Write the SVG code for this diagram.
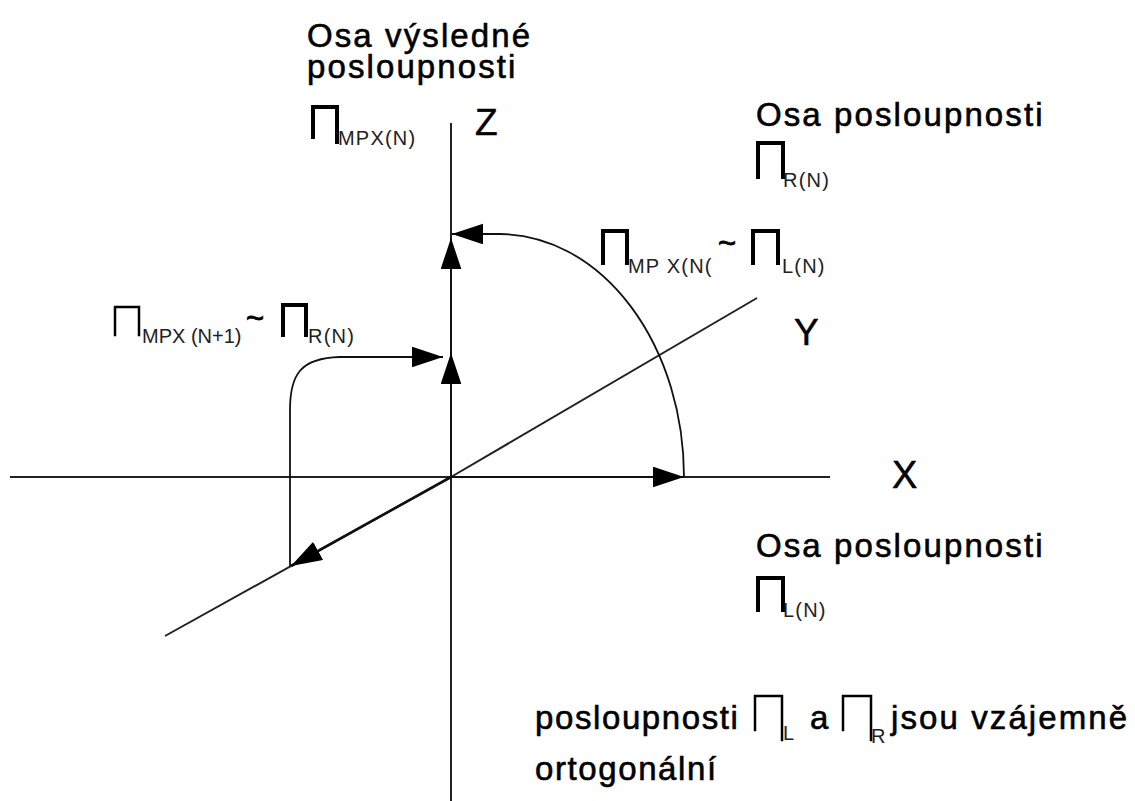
<svg xmlns="http://www.w3.org/2000/svg" width="1135" height="801" viewBox="0 0 1135 801">
<style>
.t{font-family:"Liberation Sans",Arial,sans-serif;fill:#000}
.lab{font-size:33px;letter-spacing:2.1px;stroke:#000;stroke-width:0.6px}
.ax{font-size:37px;stroke:#000;stroke-width:0.5px}
.sub{font-size:20px;letter-spacing:1.2px;fill:#222}
.axis{stroke:#222;stroke-width:2;fill:none}
.conn{stroke:#111;stroke-width:1.8;fill:none}
.pi{stroke:#000;stroke-width:4;fill:none;stroke-linecap:square}
.pit{stroke:#000;stroke-width:2.5;fill:none;stroke-linecap:square}
</style>
<defs>
<marker id="ah" viewBox="0 0 30 20" refX="30" refY="10" markerWidth="31" markerHeight="21" markerUnits="userSpaceOnUse" orient="auto">
<path d="M0,0 L30,10 L0,20 Z" fill="#000"/>
</marker>
</defs>
<rect width="1135" height="801" fill="#fff"/>
<g id="axes">
<line class="axis" x1="10" y1="477" x2="830" y2="477"/>
<line class="axis" x1="451" y1="123" x2="451" y2="801"/>
<polyline class="axis" points="165,636 451,477 757,298"/>
</g>
<g id="connectors">
<path class="conn" d="M451,477 L684,477" marker-end="url(#ah)"/>
<path class="conn" d="M684,477 A185,243 0 0 0 500,234 L452,234" marker-end="url(#ah)"/>
<path class="conn" d="M451,477 L451,353" marker-end="url(#ah)"/>
<path class="conn" d="M451,353 L451,238" marker-end="url(#ah)"/>
<path class="conn" d="M290,566 V410 C290,375 300,358 340,357 H443" marker-end="url(#ah)"/>
<path class="conn" style="stroke-width:2.6" d="M451,477 L291,566" marker-end="url(#ah)"/>
</g>
<g id="axis-z"><text class="t ax" x="475" y="135">Z</text></g>
<g id="axis-y"><text class="t ax" x="794" y="345">Y</text></g>
<g id="axis-x"><text class="t ax" x="892" y="488" style="font-size:38px">X</text></g>
<g id="label-mpx">
<text class="t lab" x="307" y="47">Osa výsledné</text>
<text class="t lab" x="307" y="78">posloupnosti</text>
<path class="pi" d="M313,137 V107 H337 V142"/>
<text class="t sub" x="338" y="145">MPX(N)</text>
</g>
<g id="label-r">
<text class="t lab" x="756" y="126">Osa posloupnosti</text>
<path class="pi" d="M758,177 V143 H783 V177"/>
<text class="t sub" x="783" y="187">R(N)</text>
</g>
<g id="label-l">
<text class="t lab" x="756" y="557">Osa posloupnosti</text>
<path class="pi" d="M758,610 V578 H783 V610"/>
<text class="t sub" x="783" y="617">L(N)</text>
</g>
<g id="label-big-arc">
<path class="pi" d="M603,263 V231 H627 V263"/>
<text class="t sub" x="628" y="273">MP X(N(</text>
<text class="t" x="718" y="254" style="font-size:31px;stroke:#000;stroke-width:0.8px">~</text>
<path class="pi" d="M753,263 V231 H778 V263"/>
<text class="t sub" x="782" y="273">L(N)</text>
</g>
<g id="label-small-arc">
<path class="pit" d="M115,335 V307 H139 V335"/>
<text class="t sub" x="142" y="343" style="letter-spacing:0">MPX (N+1)</text>
<text class="t" x="246" y="329" style="font-size:31px;stroke:#000;stroke-width:0.8px">~</text>
<path class="pi" d="M283,335 V305 H306 V335"/>
<text class="t sub" x="308" y="343">R(N)</text>
</g>
<g id="note">
<text class="t lab" x="535" y="729" style="letter-spacing:1.6px">posloupnosti</text>
<path class="pit" d="M755,730 V696 H782 V740"/>
<text class="t sub" x="783" y="740">L</text>
<text class="t lab" x="810" y="729">a</text>
<path class="pit" d="M843,730 V696 H871 V740"/>
<text class="t sub" x="871" y="743">R</text>
<text class="t lab" x="891" y="729">jsou vzájemně</text>
<text class="t lab" x="535" y="780" style="letter-spacing:1.6px">ortogonální</text>
</g>
</svg>
